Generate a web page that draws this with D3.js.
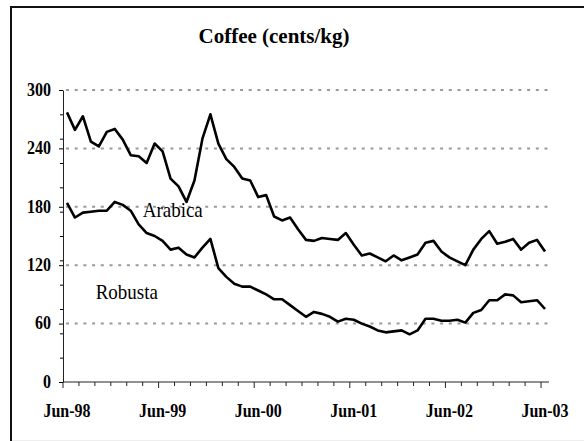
<!DOCTYPE html>
<html>
<head>
<meta charset="utf-8">
<script src="https://cdn.jsdelivr.net/npm/d3@7"></script>
<style>
body { margin: 0; background: #fff; }
svg text { font-family: "Times New Roman", "Liberation Serif", serif; fill: #000; }
</style>
</head>
<body>
<svg width="584" height="441"></svg>
<script>
// monthly prices, Jun-98 .. Jun-03 (cents/kg)
var arabica = [277, 259, 273, 247, 242, 257, 260, 249, 233, 232, 225, 245, 237, 209, 201, 185, 207,
    250, 275, 245, 229, 221, 209, 207, 190, 192, 170, 166, 169, 157, 146, 145, 148, 147, 146, 153,
    141, 130, 132, 128, 124, 130, 125, 128, 131, 143, 145, 134, 128, 124, 120, 136, 147, 155, 142,
    144, 147, 136, 143, 146, 134];
var robusta = [184, 169, 174, 175, 176, 176, 185, 182, 176, 162, 153, 150, 145, 136, 138, 131, 128,
    138, 147, 117, 108, 101, 98, 98, 94, 90, 85, 85, 79, 73, 67, 72, 70, 67, 62, 65, 64, 60, 57, 53,
    51, 52, 53, 49, 53, 65, 65, 63, 63, 64, 61, 71, 74, 84, 84, 90, 89, 82, 83, 84, 75];
var yTicks = [0, 60, 120, 180, 240, 300];
var yMinor = [25, 50, 75, 100, 125, 150, 175, 200, 225, 250, 275];
var xLabels = ["Jun-98", "Jun-99", "Jun-00", "Jun-01", "Jun-02", "Jun-03"];
var seriesNames = ["Arabica", "Robusta"];

var svg = d3.select("svg");

// outer frame
svg.append("rect")
    .attr("x", 11).attr("y", 7)
    .attr("width", 600).attr("height", 450)
    .attr("fill", "#fff")
    .attr("stroke", "#111")
    .attr("stroke-width", 2);
svg.append("rect")
    .attr("x", 12).attr("y", 440)
    .attr("width", 572).attr("height", 1)
    .attr("fill", "#eee");

var n = arabica.length;
var x = d3.scaleLinear().domain([-0.5, n - 0.5]).range([63, 549]);
var y = d3.scaleLinear().domain([0, 300]).range([382, 90]);

// title
svg.append("text")
    .attr("x", 274).attr("y", 43)
    .attr("text-anchor", "middle")
    .attr("font-size", "21px")
    .attr("font-weight", "bold")
    .text("Coffee (cents/kg)");

// dashed gridlines
svg.append("g")
    .selectAll("line")
    .data(yTicks.slice(1))
    .enter().append("line")
    .attr("x1", x(-0.5) + 3).attr("x2", x(n - 0.5))
    .attr("y1", function(d) { return y(d); })
    .attr("y2", function(d) { return y(d); })
    .attr("stroke", "#999")
    .attr("stroke-width", 2)
    .attr("stroke-dasharray", "3,5.7");

// y axis, minor ticks then major
svg.append("g")
    .attr("transform", "translate(63,0)")
    .call(d3.axisLeft(y).tickValues(yMinor).tickSize(3).tickFormat(""))
    .call(function(g) { g.select(".domain").remove(); });

var yAxis = svg.append("g")
    .attr("transform", "translate(63,0)")
    .call(d3.axisLeft(y).tickValues(yTicks).tickSize(4).tickPadding(8).tickSizeOuter(0));
yAxis.select(".domain").attr("stroke", "#222");
yAxis.selectAll("text")
    .attr("font-size", "16px")
    .attr("font-weight", "bold")
    .attr("font-family", "'Times New Roman', 'Liberation Serif', serif")
    .attr("dy", "0.28em")
    .attr("transform", "scale(1,1.2)");

// x axis: ticks every 2 months, longer every 12
var boundaries = d3.range(0, n, 2).map(function(i) { return i - 0.5; });
var xAxisG = svg.append("g").attr("transform", "translate(0,382)");
xAxisG.append("line")
    .attr("x1", x(-0.5)).attr("x2", x(n - 0.5))
    .attr("stroke", "#222");
xAxisG.selectAll(".tk")
    .data(boundaries)
    .enter().append("line")
    .attr("class", "tk")
    .attr("x1", function(d) { return x(d); })
    .attr("x2", function(d) { return x(d); })
    .attr("y1", 0)
    .attr("y2", function(d) { return (d + 0.5) % 12 === 0 ? 6 : 4; })
    .attr("stroke", "#222");

xAxisG.selectAll(".lbl")
    .data(xLabels)
    .enter().append("text")
    .attr("class", "lbl")
    .attr("text-anchor", "middle")
    .attr("font-size", "16px")
    .attr("font-weight", "bold")
    .attr("transform", function(d, i) { return "translate(" + x(i * 12) + ",35) scale(1,1.2)"; })
    .text(function(d) { return d; });

// series lines
var line = d3.line()
    .x(function(d, i) { return x(i); })
    .y(function(d) { return y(d); });

svg.selectAll(".series")
    .data([arabica, robusta])
    .enter().append("path")
    .attr("class", "series")
    .attr("d", line)
    .attr("fill", "none")
    .attr("stroke", "#000")
    .attr("stroke-width", 2.6)
    .attr("stroke-linejoin", "round");

// series labels
var labelAt = [[9.5, 170], [3.6, 85]];
svg.selectAll(".name")
    .data(seriesNames)
    .enter().append("text")
    .attr("class", "name")
    .attr("font-size", "19px")
    .attr("transform", function(d, i) {
        return "translate(" + x(labelAt[i][0]) + "," + y(labelAt[i][1]) + ") scale(1,1.08)";
    })
    .text(function(d) { return d; });
</script>
</body>
</html>
